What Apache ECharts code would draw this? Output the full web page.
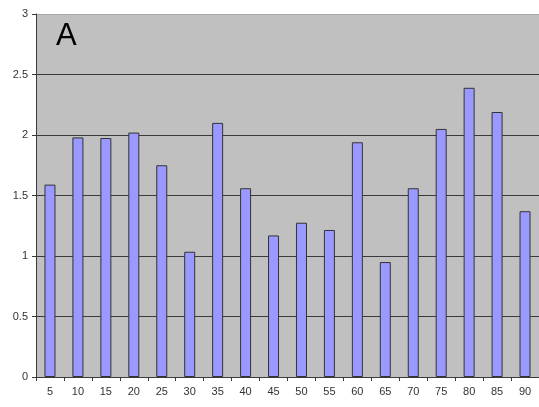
<!DOCTYPE html>
<html>
<head>
<meta charset="utf-8">
<script src="https://cdn.jsdelivr.net/npm/echarts@6/dist/echarts.min.js"></script>
<style>
  html, body { margin: 0; padding: 0; background: #ffffff; }
  #chart { width: 539px; height: 407px; }
</style>
</head>
<body>
<div id="chart"></div>
<script>
// Categories along the horizontal axis
const categories = ['5', '10', '15', '20', '25', '30', '35', '40', '45', '50', '55', '60', '65', '70', '75', '80', '85', '90'];
// Bar heights per category
const values = [1.59, 1.98, 1.975, 2.02, 1.75, 1.035, 2.10, 1.56, 1.17, 1.275, 1.215, 1.94, 0.95, 1.56, 2.05, 2.39, 2.19, 1.37];
// Vertical axis labels
const yTicks = [0, 0.5, 1, 1.5, 2, 2.5, 3];
const panelLabel = 'A';

const chart = echarts.init(document.getElementById('chart'), null, { renderer: 'canvas' });

chart.setOption({
  animation: false,
  backgroundColor: '#ffffff',
  grid: {
    left: 36,
    top: 14,
    width: 504,
    height: 363,
    show: true,
    backgroundColor: '#c0c0c0',
    borderWidth: 0
  },
  title: {
    text: panelLabel,
    left: 51,
    top: 16,
    textStyle: { fontFamily: 'Liberation Sans, Arial, sans-serif', fontSize: 31, fontWeight: 'normal', color: '#000000' }
  },
  xAxis: {
    type: 'category',
    data: categories,
    boundaryGap: true,
    axisLine: { show: true, lineStyle: { color: '#3a3a3a', width: 1 } },
    axisTick: { show: true, alignWithLabel: false, length: 4, lineStyle: { color: '#3a3a3a' } },
    axisLabel: {
      color: '#333333',
      fontFamily: 'Liberation Sans, Arial, sans-serif',
      fontSize: 11,
      margin: 9,
      interval: 0
    },
    splitLine: { show: false }
  },
  yAxis: {
    type: 'value',
    min: yTicks[0],
    max: yTicks[yTicks.length - 1],
    interval: 0.5,
    axisLine: { show: true, lineStyle: { color: '#3a3a3a', width: 1 } },
    axisTick: { show: true, length: 4, lineStyle: { color: '#3a3a3a' } },
    axisLabel: {
      color: '#333333',
      fontFamily: 'Liberation Sans, Arial, sans-serif',
      fontSize: 11,
      margin: 8,
      formatter: function (v) { return String(v); }
    },
    splitLine: {
      show: true,
      lineStyle: {
        color: ['#3a3a3a', '#3a3a3a', '#3a3a3a', '#3a3a3a', '#3a3a3a', '#3a3a3a', '#a8a8a8'],
        width: 1
      }
    }
  },
  series: [{
    type: 'bar',
    data: values,
    barWidth: 11,
    itemStyle: {
      color: '#9999ff',
      borderColor: '#333333',
      borderWidth: 1
    }
  }]
});
</script>
</body>
</html>
